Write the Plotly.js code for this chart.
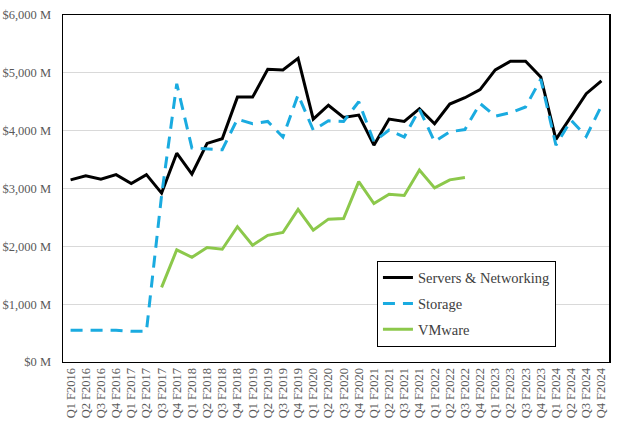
<!DOCTYPE html>
<html>
<head>
<meta charset="utf-8">
<script src="https://cdn.plot.ly/plotly-3.0.1.min.js"></script>
<style>html,body{margin:0;padding:0;background:#fff;}#chart{width:620px;height:426px;}</style>
</head>
<body>
<div id="chart"></div>
<script>
const quarters = [
  "Q1 F2016","Q2 F2016","Q3 F2016","Q4 F2016",
  "Q1 F2017","Q2 F2017","Q3 F2017","Q4 F2017",
  "Q1 F2018","Q2 F2018","Q3 F2018","Q4 F2018",
  "Q1 F2019","Q2 F2019","Q3 F2019","Q4 F2019",
  "Q1 F2020","Q2 F2020","Q3 F2020","Q4 F2020",
  "Q1 F2021","Q2 F2021","Q3 F2021","Q4 F2021",
  "Q1 F2022","Q2 F2022","Q3 F2022","Q4 F2022",
  "Q1 F2023","Q2 F2023","Q3 F2023","Q4 F2023",
  "Q1 F2024","Q2 F2024","Q3 F2024","Q4 F2024"
];
const serversNetworking = [
  3150, 3220, 3160, 3240,
  3085, 3240, 2920, 3610,
  3250, 3780, 3860, 4580,
  4580, 5060, 5050, 5250,
  4200, 4440, 4230, 4270,
  3750, 4200, 4160, 4380,
  4120, 4460, 4570, 4710,
  5050, 5200, 5200, 4930,
  3850, 4240, 4640, 4860
];
const storage = [
  550, 550, 550, 550,
  530, 530, 2880, 4810,
  3700, 3690, 3670, 4200,
  4120, 4160, 3890, 4620,
  4010, 4170, 4160, 4500,
  3810, 4010, 3890, 4370,
  3810, 3980, 4020, 4470,
  4250, 4310, 4410, 4890,
  3750, 4180, 3900, 4430
];
const vmware = [
  null, null, null, null,
  null, null, 1290, 1940,
  1810, 1980, 1950, 2340,
  2020, 2190, 2240, 2640,
  2280, 2470, 2480, 3120,
  2740, 2900, 2880, 3320,
  3010, 3150, 3190, null,
  null, null, null, null,
  null, null, null, null
];
const seriesNames = ["Servers & Networking", "Storage", "VMware"];

const serif = "'Liberation Serif', 'DejaVu Serif', serif";

const traces = [
  {
    x: quarters, y: serversNetworking, name: seriesNames[0],
    type: "scatter", mode: "lines", legendgroup: "a",
    line: {color: "#000000", width: 3}
  },
  {
    x: quarters, y: storage, name: seriesNames[1],
    type: "scatter", mode: "lines", legendgroup: "b",
    line: {color: "#1AABE0", width: 3, dash: "12px,8px"}
  },
  {
    x: quarters, y: vmware, name: seriesNames[2],
    type: "scatter", mode: "lines", legendgroup: "c",
    line: {color: "#8CC84B", width: 3}
  }
];

const layout = {
  width: 620, height: 426,
  margin: {l: 63, r: 11, t: 15, b: 64, pad: 0},
  paper_bgcolor: "#ffffff", plot_bgcolor: "#ffffff",
  font: {family: serif, color: "#595959", size: 12.5},
  showlegend: true,
  legend: {
    x: 0.575, xanchor: "left", y: 0.292, yanchor: "top",
    bordercolor: "#000000", borderwidth: 1, bgcolor: "#ffffff",
    font: {family: serif, size: 14.5, color: "#404040"},
    traceorder: "grouped", tracegroupgap: 4
  },
  xaxis: {
    type: "category", tickangle: -90, range: [-0.5, 35.5],
    showgrid: false, showline: true, linecolor: "#000000", linewidth: 1,
    mirror: true, ticks: "", zeroline: false,
    tickfont: {family: serif, size: 12.5, color: "#595959"},
    fixedrange: true
  },
  yaxis: {
    range: [0, 6000], dtick: 1000, tick0: 0,
    tickprefix: "$", ticksuffix: " M", tickformat: ",d",
    showgrid: true, gridcolor: "#d9d9d9", gridwidth: 1,
    showline: true, linecolor: "#000000", linewidth: 1.5, mirror: true,
    ticks: "", zeroline: false, ticklabelstandoff: 8,
    tickfont: {family: serif, size: 12.5, color: "#595959"},
    fixedrange: true
  }
};

Plotly.newPlot("chart", traces, layout, {displayModeBar: false, staticPlot: true});
</script>
</body>
</html>
